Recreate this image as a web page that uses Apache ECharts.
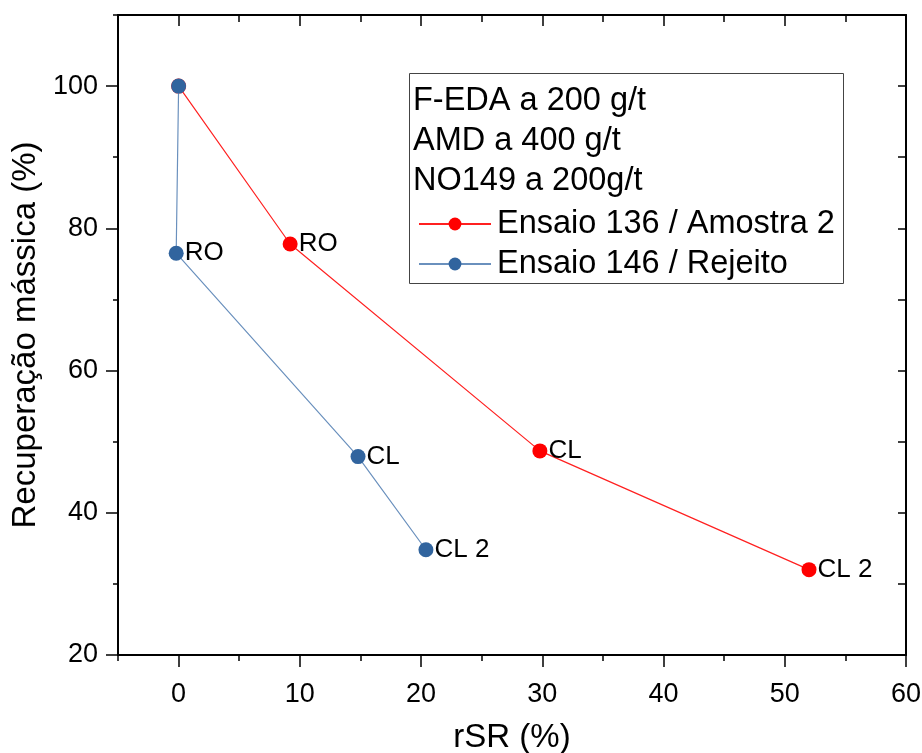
<!DOCTYPE html>
<html>
<head>
<meta charset="utf-8">
<script src="https://cdn.jsdelivr.net/npm/echarts@6/dist/echarts.min.js"></script>
<style>html,body{margin:0;padding:0;background:#fff;}#c{width:922px;height:753px;}</style>
</head>
<body>
<div id="c"></div>
<script>
// ---- data ----
const seriesNames = ['Ensaio 136 / Amostra 2', 'Ensaio 146 / Rejeito'];
const redX = [0, 9.2, 29.8, 52.0];
const redY = [100, 77.8, 48.7, 32.0];
const redLabels = ['', 'RO', 'CL', 'CL 2'];
const blueX = [0, -0.2, 14.8, 20.4];
const blueY = [100, 76.5, 47.9, 34.8];
const blueLabels = ['', 'RO', 'CL', 'CL 2'];
const xMajorTicks = [0, 10, 20, 30, 40, 50, 60];
const yMajorTicks = [20, 40, 60, 80, 100];
const legendNotes = ['F-EDA a 200 g/t', 'AMD a 400 g/t', 'NO149 a 200g/t'];

const FONT = '"Liberation Sans", Arial, sans-serif';
const chart = echarts.init(document.getElementById('c'));

function pts(xs, ys, labels) {
  return xs.map((x, i) => ({ value: [x, ys[i]], label: { show: !!labels[i], formatter: labels[i] } }));
}

const axisBase = { min: -5, max: 60, type: 'value', splitLine: { show: false } };
const yBase = { min: 20, max: 110, type: 'value', splitLine: { show: false } };
const black = { color: '#000', width: 2 };
const tickStyle = { color: '#000', width: 1.5 };

const option = {
  backgroundColor: '#fff',
  animation: false,
  grid: { left: 118, right: 16, top: 15, bottom: 98, containLabel: false, outerBoundsMode: 'none' },
  xAxis: [
    Object.assign({}, axisBase, {
      position: 'bottom', interval: 5,
      axisLine: { show: true, onZero: false, lineStyle: black },
      axisTick: { show: true, inside: false, length: 6, lineStyle: tickStyle },
      axisLabel: { customValues: xMajorTicks, fontSize: 27, color: '#000', fontFamily: FONT, margin: 26 },
      name: 'rSR (%)', nameLocation: 'middle', nameGap: 66,
      nameTextStyle: { fontSize: 33, color: '#000', fontFamily: FONT }
    }),
    Object.assign({}, axisBase, {
      position: 'bottom', interval: 10,
      axisLine: { show: false, onZero: false },
      axisTick: { show: true, inside: false, length: 12, customValues: xMajorTicks, lineStyle: tickStyle },
      axisLabel: { show: false }
    }),
    Object.assign({}, axisBase, {
      position: 'top', interval: 5,
      axisLine: { show: true, onZero: false, lineStyle: black },
      axisTick: { show: true, inside: true, length: 7, lineStyle: tickStyle },
      axisLabel: { show: false }
    }),
    Object.assign({}, axisBase, {
      position: 'top', interval: 10,
      axisLine: { show: false, onZero: false },
      axisTick: { show: true, inside: true, length: 11, customValues: xMajorTicks, lineStyle: tickStyle },
      axisLabel: { show: false }
    })
  ],
  yAxis: [
    Object.assign({}, yBase, {
      position: 'left', interval: 10,
      axisLine: { show: true, onZero: false, lineStyle: black },
      axisTick: { show: true, inside: false, length: 5, lineStyle: tickStyle },
      axisLabel: { customValues: yMajorTicks, fontSize: 27, color: '#000', fontFamily: FONT, margin: 20 },
      name: 'Recuperação mássica (%)', nameLocation: 'middle', nameGap: 70, nameRotate: 90,
      nameTextStyle: { fontSize: 33, color: '#000', fontFamily: FONT }
    }),
    Object.assign({}, yBase, {
      position: 'left', interval: 10,
      axisLine: { show: false, onZero: false },
      axisTick: { show: true, inside: false, length: 12, customValues: yMajorTicks, lineStyle: tickStyle },
      axisLabel: { show: false }
    }),
    Object.assign({}, yBase, {
      position: 'right', interval: 10,
      axisLine: { show: true, onZero: false, lineStyle: black },
      axisTick: { show: true, inside: true, length: 8, lineStyle: tickStyle },
      axisLabel: { show: false }
    })
  ],
  legend: {
    data: seriesNames,
    orient: 'vertical',
    left: 413, top: 202,
    itemWidth: 72, itemHeight: 16, itemGap: 6,
    textStyle: { fontSize: 32.5, color: '#000', fontFamily: FONT, lineHeight: 34, padding: [0, 0, 0, 1] }
  },
  graphic: [
    { type: 'rect', shape: { x: 409.5, y: 73.5, width: 434, height: 210 }, style: { fill: 'none', stroke: '#444', lineWidth: 1 }, z: 1 },
    ...legendNotes.map((t, i) => ({
      type: 'text', x: 413, y: 101 + i * 40,
      style: { text: t, fontSize: 32.5, fill: '#000', fontFamily: FONT, verticalAlign: 'middle' }, z: 2
    }))
  ],
  series: [
    {
      name: seriesNames[0], type: 'line', xAxisIndex: 0, yAxisIndex: 0,
      data: pts(redX, redY, redLabels),
      symbol: 'circle', symbolSize: 15,
      itemStyle: { color: '#ff0000' },
      lineStyle: { color: '#ff2020', width: 1.2 },
      label: { position: 'right', distance: 1, fontSize: 26, color: '#000', fontFamily: FONT },
      z: 3
    },
    {
      name: seriesNames[1], type: 'line', xAxisIndex: 0, yAxisIndex: 0,
      data: pts(blueX, blueY, blueLabels),
      symbol: 'circle', symbolSize: 15,
      itemStyle: { color: '#31649e' },
      lineStyle: { color: '#6a90bd', width: 1.2 },
      label: { position: 'right', distance: 1, fontSize: 26, color: '#000', fontFamily: FONT },
      z: 4
    }
  ]
};
chart.setOption(option);
</script>
</body>
</html>
